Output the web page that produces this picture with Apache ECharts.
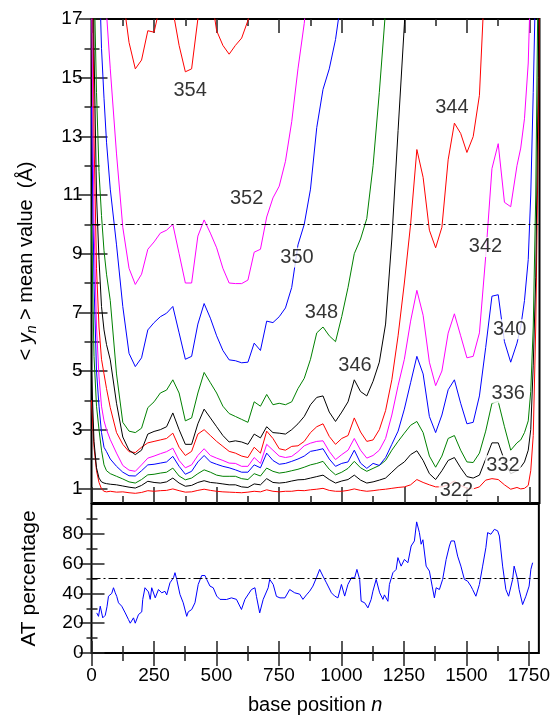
<!DOCTYPE html>
<html>
<head>
<meta charset="utf-8">
<script src="https://cdn.jsdelivr.net/npm/echarts@6/dist/echarts.min.js"></script>
<style>
html, body { margin: 0; padding: 0; background: #fff; }
#chart { width: 553px; height: 717px; }
</style>
</head>
<body>
<div id="chart"></div>
<script>
const FONT = '"Liberation Sans", Arial, Helvetica, sans-serif';

// sample positions along the sequence (top panel)
const positions = [
  0, 10, 20, 30, 40, 50, 60, 75,
  100, 125, 150, 175, 200, 225, 250, 275,
  300, 325, 350, 375, 400, 425, 450, 475,
  500, 525, 550, 575, 600, 625, 650, 675,
  700, 725, 750, 775, 800, 825, 850, 875,
  900, 925, 950, 975, 1000, 1025, 1050, 1075,
  1100, 1125, 1150, 1175, 1200, 1225, 1250, 1275,
  1300, 1325, 1350, 1375, 1400, 1425, 1450, 1475,
  1500, 1525, 1550, 1575, 1600, 1625, 1650, 1675,
  1700, 1715, 1730, 1745, 1755, 1765, 1775, 1785, 1790
];

// <y_n> per temperature
const y322 = [
  4.0, 2.4, 1.6, 1.2, 0.98, 0.9, 0.88, 0.9,
  0.87, 0.88, 0.85, 0.83, 0.86, 0.92, 0.9, 0.92,
  0.93, 0.98, 0.92, 0.87, 0.88, 0.93, 0.97, 0.93,
  0.9, 0.88, 0.87, 0.86, 0.85, 0.87, 0.9, 0.88,
  0.95, 0.9, 0.88, 0.9, 0.9, 0.93, 0.92, 0.95,
  0.97, 1.0, 0.93, 0.9, 0.9, 0.93, 0.98, 0.93,
  0.9, 0.92, 0.95, 0.97, 1.0, 1.03, 1.05, 1.12,
  1.3, 1.2, 1.12, 1.05, 1.05, 1.12, 1.25, 1.1,
  1.0, 0.98, 1.05, 1.28, 1.33, 1.3, 1.12, 0.97,
  1.03, 0.98, 1.0, 1.1, 1.6, 2.8, 6.5, 13, 18
];
const y332 = [
  5.0, 2.6, 1.7, 1.35, 1.22, 1.18, 1.16, 1.14,
  1.12, 1.08, 1.04, 1.01, 1.1, 1.24, 1.2, 1.18,
  1.22, 1.35, 1.18, 1.07, 1.1, 1.2, 1.26, 1.2,
  1.18, 1.15, 1.12, 1.12, 1.05, 1.03, 1.15, 1.12,
  1.33, 1.2, 1.18, 1.2, 1.25, 1.29, 1.3, 1.35,
  1.4, 1.45, 1.3, 1.18, 1.25, 1.3, 1.45, 1.28,
  1.18, 1.22, 1.28, 1.35, 1.55, 1.75, 1.9, 2.15,
  2.28, 1.95, 1.5, 1.3, 1.6, 1.95, 2.05, 1.7,
  1.4, 1.35, 1.45, 2.0, 2.55, 2.55, 1.95, 1.5,
  1.6, 1.72, 1.9, 2.3, 3.0, 5.2, 8.2, 15, 20
];
const y336 = [
  10, 5.5, 3.8, 3.0, 2.3, 1.8, 1.6, 1.5,
  1.41, 1.32, 1.22, 1.18, 1.3, 1.46, 1.48, 1.52,
  1.55, 1.69, 1.42, 1.29, 1.35, 1.5, 1.63, 1.55,
  1.45, 1.41, 1.41, 1.41, 1.33, 1.3, 1.5, 1.42,
  1.69, 1.58, 1.52, 1.55, 1.6, 1.65, 1.72, 1.8,
  1.85, 1.92, 1.65, 1.46, 1.55, 1.68, 1.92, 1.7,
  1.58, 1.68, 1.78, 1.95, 2.3, 2.6, 2.88, 3.15,
  3.28, 2.9, 2.1, 1.72, 2.1, 2.7, 2.8, 2.3,
  1.9, 1.88, 2.2, 2.95, 3.9, 3.96, 3.1, 2.3,
  2.55, 2.65, 2.9, 3.3, 4.3, 6.5, 11, 19, 24
];
const y340 = [
  14, 8, 5, 3.8, 2.9, 2.4, 2.25, 2.0,
  1.75, 1.55, 1.43, 1.42, 1.6, 1.8, 1.82, 1.86,
  1.9, 2.09, 1.75, 1.48, 1.58, 1.9, 2.12, 1.9,
  1.82, 1.75, 1.7, 1.63, 1.55, 1.55, 1.8, 1.7,
  2.2, 1.95, 1.82, 1.85, 1.92, 2.0, 2.1, 2.26,
  2.3, 2.35, 2.0, 1.75, 1.85, 1.9, 2.3, 1.86,
  1.68, 1.85, 1.78, 2.05, 2.5, 2.95, 3.7, 4.6,
  5.5, 4.9, 3.45, 2.9, 3.5, 4.36, 4.7, 3.9,
  3.2, 3.25, 4.15, 5.8, 7.55, 7.6, 6.0, 5.3,
  5.95, 6.5, 7.4, 8.8, 11, 14.5, 18.5, 23, 26
];
const y342 = [
  18, 10, 6.5, 4.8, 3.8, 3.3, 3.0, 2.66,
  2.2, 1.78, 1.62, 1.58, 1.8, 2.03, 2.1, 2.18,
  2.25, 2.37, 1.95, 1.7, 1.8, 2.12, 2.35, 2.12,
  2.03, 1.95, 1.86, 1.85, 1.75, 1.75, 2.05, 1.85,
  2.5, 2.3, 2.1, 2.05, 2.09, 2.25, 2.45, 2.54,
  2.6, 2.62, 2.26, 1.98, 2.15, 2.3, 2.7, 2.3,
  2.03, 2.12, 2.3, 2.7, 3.5, 4.5, 5.4, 6.7,
  7.75, 6.9, 5.3, 4.5, 5.0, 6.29, 6.95, 6.2,
  5.45, 5.5, 6.3, 8.9, 11.9, 12.75, 10.75, 10.6,
  12.0, 12.6, 13.6, 15.5, 18.5, 22
];
const y344 = [
  25, 13, 8.5, 6.5, 5.4, 4.9, 4.4, 3.75,
  2.9, 2.5, 2.25, 2.22, 2.4, 2.55, 2.6, 2.65,
  2.7, 2.88, 2.4, 2.12, 2.26, 2.85, 3.0, 2.8,
  2.6, 2.43, 2.26, 2.2, 2.1, 2.05, 2.4, 2.2,
  2.95, 2.7, 2.35, 2.3, 2.43, 2.45, 2.6, 2.9,
  3.1, 3.2, 2.77, 2.5, 2.7, 2.8, 3.4, 2.92,
  2.6, 2.65, 3.0, 3.65, 4.7, 6.2, 8.0, 10.0,
  12.55, 11.6, 9.8, 9.2, 9.9, 12.2, 13.45, 13.1,
  12.45, 12.99, 14.4, 19, 23
];
const y346 = [
  30, 16, 11, 8.8, 7.2, 6.4, 5.9, 5.38,
  3.9, 2.75, 2.3, 2.15, 2.3, 2.85, 2.94, 3.0,
  3.1, 3.57, 3.0, 2.5, 2.5, 3.2, 3.7, 3.4,
  3.1, 2.8, 2.58, 2.62, 2.58, 2.5, 2.85, 2.72,
  3.1, 2.9, 2.88, 2.85, 3.0, 3.2, 3.45, 3.85,
  4.1, 4.15, 3.6, 3.28, 3.6, 3.95, 4.7, 4.3,
  4.15, 4.65, 5.3, 6.6, 9.5, 13.2, 16.8, 21
];
const y348 = [
  30, 18.5, 14.5, 11.8, 10.3, 9.1, 8.3, 7.4,
  4.9, 3.25, 2.95, 2.9, 3.05, 3.75, 3.95, 4.25,
  4.35, 4.7, 4.25, 3.3, 3.4, 4.25, 4.95, 4.6,
  4.25, 3.8, 3.55, 3.45, 3.35, 3.25, 3.95, 3.8,
  4.2, 3.85, 3.9, 3.85, 3.95, 4.4, 4.75, 5.4,
  6.3, 6.5, 6.2, 6.0, 6.86, 7.85, 9.0, 9.5,
  10.2, 12.0, 14.5, 17.3, 21
];
const y350 = [
  null, null, 25, 19, 16, 14.3, 12.8, 11.2,
  9.3, 7.2, 5.6, 5.15, 5.45, 6.4, 6.65, 6.85,
  6.97, 7.2, 6.3, 5.4, 5.5, 6.6, 7.3, 6.8,
  6.2, 5.7, 5.38, 5.35, 5.28, 5.3, 5.95, 5.7,
  6.7, 6.65, 6.85, 7.15, 7.85, 9.3, 10.0, 11.2,
  13.3, 14.6, 15.3, 16.3, 17.8, 19.5
];
const y352 = [
  null, null, null, null, 25, 20, 17.2, 15.3,
  12.4, 9.9, 8.5, 7.95, 8.3, 9.15, 9.4, 9.7,
  9.8, 10.0, 9.0, 8.0, 8.0, 9.6, 10.15, 9.7,
  9.2, 8.5, 8.0, 7.98, 7.98, 8.1, 9.05, 9.15,
  10.25, 10.9, 11.3, 12.15, 13.5, 15.3, 16.85, 19
];
const y354 = [
  null, null, null, null, null, null, null, null,
  20, 17.8, 16.2, 15.3, 15.6, 16.6, 16.55, 17.5,
  18.3, 17.3, 16.1, 15.2, 15.3, 17.0, 18.2, 18.0,
  16.6, 16.1, 15.8, 16.1, 16.35, 16.95, 18, 20
];

const curveNames = ['322', '332', '336', '340', '342', '344', '346', '348', '350', '352', '354'];
const curveValues = [y322, y332, y336, y340, y342, y344, y346, y348, y350, y352, y354];
const curveColors = ['#ff0000', '#000000', '#008000', '#0000ff', '#ff00ff',
                     '#ff0000', '#000000', '#008000', '#0000ff', '#ff00ff', '#ff0000'];

// curve labels (data coordinates of label centres)
const labelText = ['354', '352', '350', '348', '346', '344', '342', '340', '336', '332', '322'];
const labelN = [394, 620, 821, 919, 1053, 1440, 1574, 1671, 1665, 1644, 1458];
const labelY = [14.56, 10.88, 8.87, 7.0, 5.2, 13.97, 9.23, 6.42, 4.24, 1.79, 0.94];

// AT percentage (bottom panel)
const atPos = [
  21, 28, 35, 45, 55, 62, 68, 75, 81, 88,
  95, 101, 108, 121, 135, 148, 155, 168, 175, 188,
  195, 201, 205, 214, 228, 235, 241, 255, 268, 281,
  294, 301, 314, 328, 334, 341, 354, 367, 381, 387,
  401, 414, 427, 441, 454, 461, 474, 487, 501, 514,
  540, 560, 580, 600, 614, 640, 654, 660, 673, 687,
  707, 713, 727, 740, 754, 774, 793, 813, 833, 846,
  860, 873, 886, 900, 913, 926, 940, 960, 973, 986,
  1000, 1013, 1026, 1040, 1053, 1062, 1073, 1079, 1093, 1106,
  1119, 1126, 1139, 1153, 1166, 1172, 1186, 1192, 1206, 1219,
  1226, 1239, 1252, 1266, 1279, 1292, 1301, 1312, 1319, 1326,
  1339, 1352, 1363, 1372, 1379, 1392, 1405, 1419, 1432, 1439,
  1452, 1465, 1478, 1492, 1505, 1518, 1525, 1538, 1552, 1565,
  1578, 1585, 1598, 1612, 1625, 1632, 1645, 1658, 1669, 1685,
  1691, 1705, 1711, 1725, 1738, 1751, 1758, 1765
];
const atVal = [
  26.9, 24.6, 31.4, 23.6, 25.3, 31, 38.1, 37, 40, 43.8,
  40.4, 38, 33.7, 31.4, 26.9, 22.4, 20, 23.6, 20, 25.8,
  24.6, 27.6, 35.9, 43.8, 41, 36, 43.8, 37, 42.6, 40.4,
  41.4, 39, 47.1, 50.5, 53.9, 49.4, 39.3, 33.7, 24.6, 27.6,
  29.2, 33.7, 46, 52, 52, 49.4, 44.9, 43.8, 38.2, 36,
  35.9, 37, 36, 29.2, 36, 42.6, 43.8, 38, 26.9, 36,
  43.8, 49.4, 46, 38, 37, 37, 42.6, 40.4, 39.5, 36,
  39, 41.5, 44.9, 50.5, 56.1, 51.6, 47.1, 40.4, 38.2, 37,
  46, 38.2, 46, 50.5, 50.5, 56.1, 49.4, 34.8, 33.7, 30.3,
  36, 41.5, 49.4, 40.4, 36, 39, 34.7, 46, 53.9, 56.1,
  64, 58.3, 62.8, 60.6, 71.8, 75.2, 88, 80.8, 73, 76,
  58.3, 55, 44.9, 37, 43.8, 42.6, 49.4, 62.8, 71.8, 75.2,
  75.2, 65, 58.3, 49.4, 48.2, 44.9, 42.6, 38.1, 46, 58.3,
  70.7, 80.8, 79.7, 83, 82, 78.5, 58.3, 42.6, 38.1, 49.4,
  58.3, 49.4, 42.6, 32.5, 38.1, 44.9, 56.1, 60.6
];

// ticks
const xMajor = [0, 250, 500, 750, 1000, 1250, 1500, 1750];
const xMinor = [125, 375, 625, 875, 1125, 1375, 1625];
const yTopMajor = [1, 3, 5, 7, 9, 11, 13, 15, 17];
const yTopMinor = [2, 4, 6, 8, 10, 12, 14, 16];
const atMajor = [0, 20, 40, 60, 80];
const atMinor = [10, 30, 50, 70, 90];

const chart = echarts.init(document.getElementById('chart'));

const tickLine = { color: '#222', width: 1.5 };
const labelFont = { fontSize: 19, fontFamily: FONT, color: '#000000', formatter: v => String(v) };
const nameFont = { fontSize: 20, fontFamily: FONT, color: '#000000' };

function xAx(grid, pos, ticks, len, extra) {
  return Object.assign({
    type: 'value', gridIndex: grid, position: pos, min: 0, max: 1790,
    axisLine: { show: false }, splitLine: { show: false },
    axisTick: { inside: true, length: len, customValues: ticks, lineStyle: tickLine },
    axisLabel: { show: false }
  }, extra || {});
}
function yAx(grid, pos, min, max, ticks, len, extra) {
  return Object.assign({
    type: 'value', gridIndex: grid, position: pos, min: min, max: max,
    axisLine: { show: false }, splitLine: { show: false },
    axisTick: { inside: true, length: len, customValues: ticks, lineStyle: tickLine },
    axisLabel: { show: false }
  }, extra || {});
}

const dashDot = { color: '#000', width: 1, type: [9, 3, 2, 3] };

const series = curveValues.map((vals, k) => ({
  name: curveNames[k],
  type: 'line',
  xAxisIndex: 0, yAxisIndex: 0,
  data: vals.map((v, i) => [positions[i], v]),
  showSymbol: false,
  clip: true,
  lineStyle: { color: curveColors[k], width: 1 },
  itemStyle: { color: curveColors[k] },
  markLine: k === 0 ? {
    silent: true, symbol: ['none', 'none'], label: { show: false },
    lineStyle: dashDot, data: [{ yAxis: 10 }]
  } : undefined
}));

series.push({
  type: 'scatter',
  xAxisIndex: 0, yAxisIndex: 0,
  z: 10, silent: true,
  symbolSize: 0,
  itemStyle: { color: '#ffffff' },
  data: labelN.map((n, i) => [n, labelY[i], labelText[i]]),
  label: {
    show: true, position: 'inside', formatter: p => p.data[2],
    fontSize: 20, fontFamily: FONT, color: '#000000',
    backgroundColor: '#ffffff', padding: [0, 1]
  }
});

series.push({
  type: 'line',
  xAxisIndex: 4, yAxisIndex: 4,
  data: atPos.map((n, i) => [n, atVal[i]]),
  showSymbol: false,
  lineStyle: { color: '#0000ff', width: 1 },
  itemStyle: { color: '#0000ff' },
  markLine: {
    silent: true, symbol: ['none', 'none'], label: { show: false },
    lineStyle: dashDot, data: [{ yAxis: 50 }]
  }
});

const option = {
  animation: false,
  backgroundColor: '#fff',
  grid: [
    { left: 91.5, top: 19, width: 448, height: 484, show: true, borderColor: '#000', borderWidth: 2 },
    { left: 91.5, top: 504, width: 448, height: 149, show: true, borderColor: '#000', borderWidth: 2 }
  ],
  xAxis: [
    xAx(0, 'bottom', xMajor, 16),
    xAx(0, 'bottom', xMinor, 7),
    xAx(0, 'top', xMajor, 14),
    xAx(0, 'top', xMinor, 7),
    xAx(1, 'bottom', xMajor, 12, {
      axisLabel: Object.assign({ show: true, customValues: xMajor, margin: 13 }, labelFont),
      name: 'base position {i|n}',
      nameLocation: 'middle', nameGap: 42,
      nameTextStyle: Object.assign({
        rich: { i: { fontStyle: 'italic', fontSize: 20, fontFamily: FONT, color: '#000' } }
      }, nameFont)
    }),
    xAx(1, 'bottom', xMinor, 7),
    xAx(1, 'top', xMajor, 13),
    xAx(1, 'top', xMinor, 8)
  ],
  yAxis: [
    yAx(0, 'left', 0.5, 17, yTopMajor, 16, {
      axisLabel: Object.assign({ show: true, customValues: yTopMajor, margin: 9 }, labelFont),
      name: '< {i|y}{s|n} > mean value  (Å)',
      nameLocation: 'middle', nameGap: 52, nameRotate: 90,
      nameTextStyle: Object.assign({
        lineHeight: 26,
        rich: {
          i: { fontStyle: 'italic', fontSize: 20, fontFamily: FONT, color: '#000', lineHeight: 26 },
          s: { fontStyle: 'italic', fontSize: 14, fontFamily: FONT, color: '#000', lineHeight: 14, verticalAlign: 'bottom' }
        }
      }, nameFont)
    }),
    yAx(0, 'left', 0.5, 17, yTopMinor, 8),
    yAx(0, 'right', 0.5, 17, yTopMajor, 13),
    yAx(0, 'right', 0.5, 17, yTopMinor, 7),
    yAx(1, 'left', 0, 100, atMajor, 13, {
      axisLabel: Object.assign({ show: true, customValues: atMajor, margin: 8 }, labelFont),
      name: 'AT percentage',
      nameLocation: 'middle', nameGap: 52, nameRotate: 90,
      nameTextStyle: Object.assign({}, nameFont, { fontSize: 21 })
    }),
    yAx(1, 'left', 0, 100, atMinor, 6),
    yAx(1, 'right', 0, 100, atMajor, 12),
    yAx(1, 'right', 0, 100, atMinor, 5)
  ],
  series: series
};

chart.setOption(option);
</script>
</body>
</html>
